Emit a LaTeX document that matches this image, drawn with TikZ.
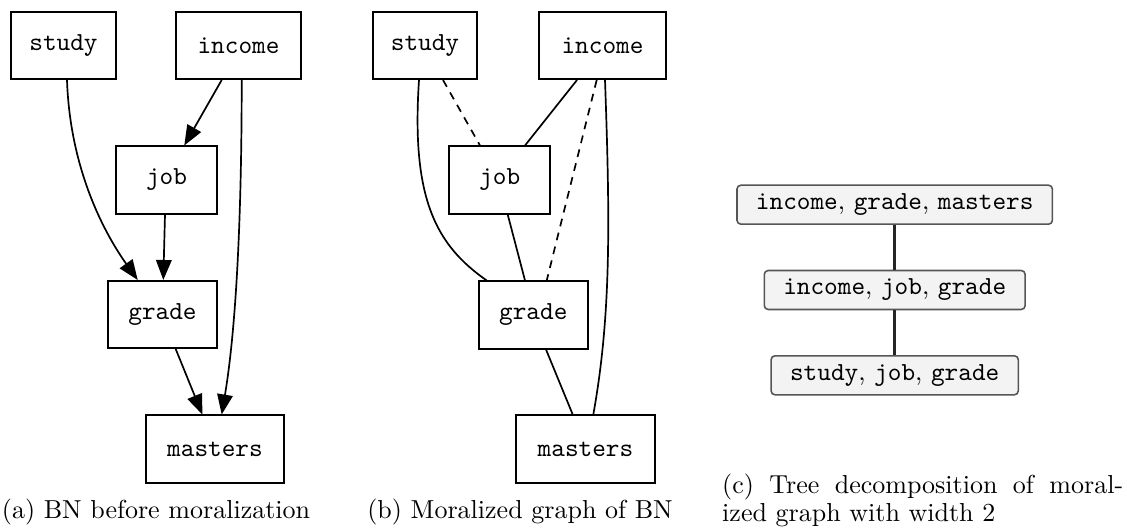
\documentclass[tikz,border=0pt]{standalone}
\usepackage{fontspec}
\usetikzlibrary{arrows.meta,calc}
\definecolor{cliquefill}{HTML}{F3F3F3}
\definecolor{cliqueedge}{HTML}{555555}
\begin{document}
\begin{tikzpicture}[x=0.3846pt,y=-0.3846pt,
  var/.style={draw, line width=0.75pt, minimum height=25.8pt, inner sep=0pt,
    font=\ttfamily\fontsize{10}{12}\selectfont},
  dep/.style={line width=0.65pt, -{Triangle[length=7.7pt,width=6pt]}},
  link/.style={line width=0.65pt},
  moral/.style={link, dash pattern=on 3pt off 2.5pt},
  clique/.style={draw=cliqueedge, fill=cliquefill, rounded corners=1.5pt,
    line width=0.6pt, minimum height=15pt, inner xsep=7.3pt, inner ysep=0pt,
    font=\fontsize{10}{12}\selectfont},
  treeedge/.style={line width=1pt, draw=black!85},
  captext/.style={font=\fontsize{10}{10.8}\selectfont, inner sep=0pt}]
\useasboundingbox (0,0) rectangle (1127,529);

% (a) Bayesian network
\node[var, minimum width=40.3pt] (a-study)   at (63.5,45.5)  {study};
\node[var, minimum width=48pt]   (a-income)  at (238.5,45.5) {income};
\node[var, minimum width=38.8pt] (a-job)     at (166.5,180)  {job};
\node[var, minimum width=41.9pt] (a-grade)   at (162.5,314.5) {grade};
\node[var, minimum width=53.3pt] (a-masters) at (215,449)    {masters};

\draw[dep] ($(a-study.south)+(3.5,0)$) .. controls +(3,90) and +(-32.7,-46) .. ($(a-grade.north)+(-24.8,0)$);
\draw[dep] ($(a-income.south)+(-16.8,0)$) -- ($(a-job.north)+(17.8,0)$);
\draw[dep] ($(a-job.south)+(-1.5,0)$) -- ($(a-grade.north)+(0.8,0)$);
\draw[dep] ($(a-income.south)+(3.2,0)$) .. controls +(0,130) and +(15,-90) .. ($(a-masters.north)+(6.7,0)$);
\draw[dep] ($(a-grade.south)+(13.2,0)$) -- ($(a-masters.north)+(-12.7,0)$);

\node[captext, anchor=base] (cap-a) at (156,518) {(a) BN before moralization};

% (b) moralized graph
\node[var, minimum width=40.3pt] (b-study)   at (425,45.5)   {study};
\node[var, minimum width=48.8pt] (b-income)  at (602.5,45.5) {income};
\node[var, minimum width=38.8pt] (b-job)     at (499.7,180)  {job};
\node[var, minimum width=41.9pt] (b-grade)   at (533.3,315)  {grade};
\node[var, minimum width=53.4pt] (b-masters) at (585.5,449)  {masters};

\draw[link] ($(b-study.south)+(-6,0)$) .. controls +(-8,120) and +(-50,-35) .. ($(b-grade.north)+(-46.6,0)$);
\draw[moral] ($(b-study.south)+(18,0)$) -- ($(b-job.north)+(-19.7,0)$);
\draw[link] ($(b-income.south)+(-25.5,0)$) -- ($(b-job.north)+(25.3,0)$);
\draw[moral] ($(b-income.south)+(-5.8,0)$) -- ($(b-grade.north)+(13.4,0)$);
\draw[link] ($(b-income.south)+(2.5,0)$) .. controls +(5,140) and +(18,-100) .. ($(b-masters.north)+(7.8,0)$);
\draw[link] ($(b-job.south)+(8,0)$) -- ($(b-grade.north)+(-8.3,0)$);
\draw[link] ($(b-grade.south)+(12.7,0)$) -- ($(b-masters.north)+(-12.8,0)$);

\node[captext, anchor=base] (cap-b) at (520,518) {(b) Moralized graph of BN};

% (c) tree decomposition
\node[clique] (t-top) at (894.7,204.7) {\texttt{income}, \texttt{grade}, \texttt{masters}};
\node[clique] (t-mid) at (894.7,290)   {\texttt{income}, \texttt{job}, \texttt{grade}};
\node[clique] (t-bot) at (894.7,375.3) {\texttt{study}, \texttt{job}, \texttt{grade}};
\draw[treeedge] (t-top.south) -- (t-mid.north);
\draw[treeedge] (t-mid.south) -- (t-bot.north);

\node[captext, anchor=north west, align=left] (cap-c) at (721.7,473.5)
  {\makebox[154.2pt][s]{(c) Tree decomposition of moral-}\\ized graph with width 2};
\end{tikzpicture}
\end{document}
